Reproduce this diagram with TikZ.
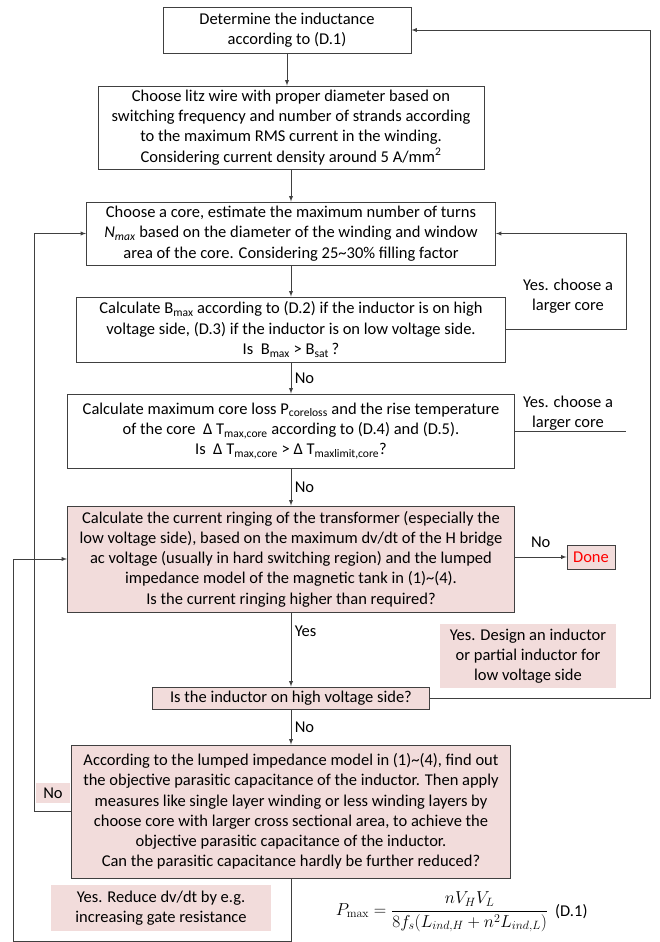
\documentclass[tikz,border=0pt]{standalone}
\usepackage{amsmath}
\usepackage[no-math]{fontspec}
\setmainfont{Carlito}
\usepackage{tikz}
\usetikzlibrary{shapes, arrows}
\usepackage{xcolor}
\definecolor{pinkfill}{HTML}{F2DCDB}
\definecolor{linegray}{HTML}{404040}

\begin{document}
\begin{tikzpicture}[x=1pt, y=-1pt, >=latex, auto,
    font=\fontsize{16.5}{20.3}\selectfont,
    stepbox/.style={rectangle, draw=linegray, line width=0.9pt, align=center, inner sep=0pt},
    pinkbox/.style={stepbox, fill=pinkfill},
    note/.style={rectangle, fill=pinkfill, align=center, inner sep=0pt},
    line/.style={draw=linegray, line width=0.9pt}]
    \useasboundingbox (0,0) rectangle (660,942);

    % Define nodes
    \node (A) [stepbox, minimum width=248pt, minimum height=46pt] at (287,30) {Determine the inductance\\according to (D.1)};
    \node (B) [stepbox, minimum width=386pt, minimum height=83pt, below of=A, xshift=4pt, node distance=97.5pt] {Choose litz wire with proper diameter based on\\switching frequency and number of strands according\\to the maximum RMS current in the winding.\\Considering current density around 5 A/mm\textsuperscript{2}};
    \node (C) [stepbox, minimum width=409pt, minimum height=63pt, below of=B, node distance=106pt] {Choose a core, estimate the maximum number of turns\\\textit{N}\textsubscript{\textit{max}} based on the diameter of the winding and window\\area of the core. Considering 25\textasciitilde30\% filling factor};
    \node (D) [stepbox, minimum width=429pt, minimum height=65pt, below of=C, node distance=96pt] {Calculate B\textsubscript{max} according to (D.2) if the inductor is on high\\voltage side, (D.3) if the inductor is on low voltage side.\\Is\ \ B\textsubscript{max} > B\textsubscript{sat}\,?};
    \node (E) [stepbox, minimum width=447pt, minimum height=74pt, below of=D, node distance=101.5pt] {Calculate maximum core loss P\textsubscript{coreloss} and the rise temperature\\of the core \ Δ T\textsubscript{max,core} according to (D.4) and (D.5).\\Is \ Δ T\textsubscript{max,core} > Δ T\textsubscript{maxlimit,core}?};
    \node (F) [pinkbox, minimum width=447pt, minimum height=106pt, below of=E, node distance=128pt] {Calculate the current ringing of the transformer (especially the\\low voltage side), based on the maximum dv/dt of the H bridge\\ac voltage (usually in hard switching region) and the lumped\\impedance model of the magnetic tank in (1)\textasciitilde(4).\\Is the current ringing higher than required?};
    \node (G) [pinkbox, minimum width=277pt, minimum height=22pt, below of=F, node distance=139pt] {Is the inductor on high voltage side?};
    \node (H) [pinkbox, minimum width=439pt, minimum height=133pt, below of=G, node distance=113.5pt] {According to the lumped impedance model in (1)\textasciitilde(4), find out\\the objective parasitic capacitance of the inductor. Then apply\\measures like single layer winding or less winding layers by\\choose core with larger cross sectional area, to achieve the\\objective parasitic capacitance of the inductor.\\Can the parasitic capacitance hardly be further reduced?};
    \node (done) [pinkbox, minimum width=48pt, minimum height=24pt, text=red] at (591,557) {Done};

    % Side notes
    \node (yes1) [align=center] at (568,296) {Yes. choose a\\larger core};
    \node (yes2) [align=center] at (568,413) {Yes. choose a\\larger core};
    \node (yesLV) [note, minimum width=176pt, minimum height=64pt] at (528,656) {Yes. Design an inductor\\or partial inductor for\\low voltage side};
    \node (noL) [note, minimum width=34pt, minimum height=20pt] at (53,793) {No};
    \node (yesDv) [note, minimum width=220pt, minimum height=46pt] at (161,908) {Yes. Reduce dv/dt by e.g.\\increasing gate resistance};
    \node (eq) at (442,912) {$P_{\max} = \dfrac{nV_H V_L}{8 f_s (L_{ind,H} + n^2 L_{ind,L})}$};
    \node (eqno) [anchor=west] at (eq.east) {(D.1)};

    % Loop lines
    \coordinate (ri) at (626,0);
    \coordinate (ro) at (650,0);
    \coordinate (li) at (34,0);
    \coordinate (lo) at (13,0);
    \coordinate (bot) at (0,941);

    % Draw edges
    \draw[line,->] (A) -- (A |- B.north);
    \draw[line,->] (B) -- (C);
    \draw[line,->] (C) -- (D);
    \draw[line,->] (D) -- node {No} (E);
    \draw[line,->] (E) -- node {No} (F);
    \draw[line,->] (F) -- node[pos=0.25] {Yes} (G);
    \draw[line,->] (G) -- node {No} (H);
    \draw[line,->] (F.east |- done) -- node[yshift=6pt] {No} (done);
    \draw[line,->] (D.east) -- (D.east -| ri) -- (C.east -| ri) -- (C.east);
    \draw[line] (E.east) -- (E.east -| ri);
    \draw[line,->] (G.east) -- (G.east -| ro) -- (A.east -| ro) -- (A.east);
    \draw[line,->] (H.west) -- (H.west -| li) -- (C.west -| li) -- (C.west);
    \draw[line,->] (H.south) -- (H.south |- bot) -- (lo |- bot) -- (lo |- F.west) -- (F.west);
\end{tikzpicture}
\end{document}
